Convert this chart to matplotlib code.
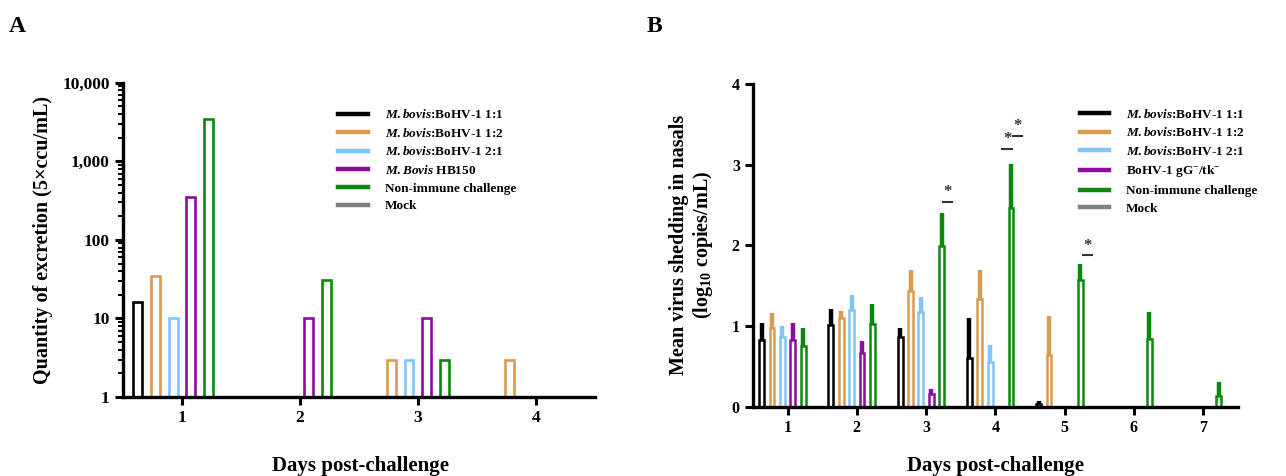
import numpy as np
import matplotlib
matplotlib.use("Agg")
import matplotlib.pyplot as plt
from matplotlib.lines import Line2D
from matplotlib.ticker import FixedLocator, LogLocator, NullFormatter

plt.rcParams['font.family'] = ['Liberation Serif', 'DejaVu Serif']
plt.rcParams['font.weight'] = 'bold'
plt.rcParams['axes.labelweight'] = 'bold'
plt.rcParams['mathtext.fontset'] = 'custom'
plt.rcParams['mathtext.rm'] = 'Liberation Serif:bold'
plt.rcParams['mathtext.bf'] = 'Liberation Serif:bold'
plt.rcParams['mathtext.it'] = 'Liberation Serif:bold:italic'

# --- DATA: panel A (virus excretion, log scale) ---
days_a = [1, 2, 3, 4]
a_mb11 = [16, 1, 1, 1]
a_mb12 = [35, 1, 3, 3]
a_mb21 = [10, 1, 3, 1]
a_hb150 = [355, 10, 10, 1]
a_nonimm = [3500, 31, 3, 1]
a_mock = [1, 1, 1, 1]

# --- DATA: panel B (mean shedding, log10 copies/mL) ---
days_b = [1, 2, 3, 4, 5, 6, 7]
b_mb11 = [0.83, 1.01, 0.87, 0.60, 0.03, 0, 0]
b_mb11_sd = [0.21, 0.20, 0.10, 0.50, 0.04, 0, 0]
b_mb12 = [0.98, 1.10, 1.44, 1.34, 0.64, 0, 0]
b_mb12_sd = [0.18, 0.08, 0.26, 0.36, 0.48, 0, 0]
b_mb21 = [0.87, 1.20, 1.17, 0.55, 0, 0, 0]
b_mb21_sd = [0.13, 0.18, 0.19, 0.21, 0, 0, 0]
b_gg = [0.83, 0.66, 0.16, 0, 0, 0, 0]
b_gg_sd = [0.21, 0.15, 0.06, 0, 0, 0, 0]
b_nonimm = [0.75, 1.02, 1.99, 2.46, 1.57, 0.84, 0.13]
b_nonimm_sd = [0.22, 0.25, 0.41, 0.55, 0.20, 0.33, 0.18]
b_mock = [0, 0, 0, 0, 0, 0, 0]

# significance marks (x in days, y of underline)
sig_x = [3.31, 4.17, 4.32, 5.33]
sig_y = [2.54, 3.20, 3.36, 1.875]

colors = ['#000000', '#DA9A50', '#80C4F8', '#8E0AA0', '#0A8A0A', '#808080']
labels_a = [r'$\mathit{M{.}bovis}$:BoHV-1 1:1', r'$\mathit{M{.}bovis}$:BoHV-1 1:2',
            r'$\mathit{M{.}bovis}$:BoHV-1 2:1', r'$\mathit{M{.}Bovis}$ HB150',
            'Non-immune challenge', 'Mock']
labels_b = labels_a[:3] + [r'BoHV-1 gG$^{-}$/tk$^{-}$', 'Non-immune challenge', 'Mock']

offsets = (np.arange(6) - 2.5) * 0.15

fig = plt.figure(figsize=(12.86, 4.76), dpi=100)
axA = fig.add_axes([0.0956, 0.166, 0.367, 0.660])
axB = fig.add_axes([0.5855, 0.1456, 0.377, 0.678])


def style_axis(ax):
    for s in ['top', 'right']:
        ax.spines[s].set_visible(False)
    for s in ['left', 'bottom']:
        ax.spines[s].set_linewidth(2.4)
    ax.tick_params(which='major', direction='out', length=6, width=2.2)
    ax.tick_params(which='minor', direction='out', length=3.5, width=1.4)


# --- PANEL A ---
series_a = [a_mb11, a_mb12, a_mb21, a_hb150, a_nonimm, a_mock]
for i, vals in enumerate(series_a):
    vals = np.array(vals, dtype=float)
    x = np.array(days_a) + offsets[i]
    m = vals > 1
    axA.bar(x[m], vals[m] - 1, bottom=1, width=0.075, fill=False,
            edgecolor=colors[i], linewidth=1.9)
axA.set_yscale('log')
axA.set_ylim(1, 10000)
axA.set_xlim(0.5, 4.5)
axA.yaxis.set_major_locator(FixedLocator([1, 10, 100, 1000, 10000]))
axA.set_yticklabels(['1', '10', '100', '1,000', '10,000'])
axA.yaxis.set_minor_locator(LogLocator(base=10, subs=np.arange(2, 10)))
axA.yaxis.set_minor_formatter(NullFormatter())
axA.set_xticks(days_a)
style_axis(axA)
axA.tick_params(axis='both', labelsize=12.5)
axA.set_ylabel('Quantity of excretion (5×ccu/mL)', fontsize=14.5, labelpad=7)

# --- PANEL B ---
series_b = [(b_mb11, b_mb11_sd), (b_mb12, b_mb12_sd), (b_mb21, b_mb21_sd),
            (b_gg, b_gg_sd), (b_nonimm, b_nonimm_sd), (b_mock, None)]
for i, (vals, sd) in enumerate(series_b):
    vals = np.array(vals, dtype=float)
    x = np.array(days_b) + offsets[i]
    m = vals > 0
    if not m.any():
        continue
    axB.bar(x[m], vals[m], width=0.07, fill=False,
            edgecolor=colors[i], linewidth=1.8)
    sd = np.array(sd, dtype=float)
    axB.vlines(x[m], vals[m], vals[m] + sd[m], colors=colors[i], linewidth=3.2)

for sx, sy in zip(sig_x, sig_y):
    axB.plot([sx - 0.07, sx + 0.07], [sy, sy], color='#333333', lw=1.5)
    axB.text(sx, sy + 0.02, '*', ha='center', va='bottom', fontsize=12, color='#333333')

axB.set_ylim(0, 4)
axB.set_xlim(0.5, 7.5)
axB.set_yticks([0, 1, 2, 3, 4])
axB.set_xticks(days_b)
style_axis(axB)
axB.tick_params(axis='both', labelsize=11.5)
axB.set_ylabel('Mean virus shedding in nasals\n(log$_{10}$ copies/mL)', fontsize=14.5,
               labelpad=12, linespacing=1.1)

# --- x labels and panel letters ---
fig.text(0.28, 0.02, 'Days post-challenge', ha='center', va='center', fontsize=15)
fig.text(0.774, 0.02, 'Days post-challenge', ha='center', va='center', fontsize=15)
fig.text(0.007, 0.945, 'A', fontsize=17, ha='left', va='center')
fig.text(0.503, 0.945, 'B', fontsize=17, ha='left', va='center')

# --- legends ---
handles = [Line2D([0], [0], color=c, lw=3.2) for c in colors]
fig.legend(handles, labels_a, loc='upper left', bbox_to_anchor=(0.2625, 0.7725),
           frameon=False, fontsize=9.5, handlelength=2.3, handletextpad=1.3,
           labelspacing=0.42, borderpad=0, borderaxespad=0)
fig.legend(handles, labels_b, loc='upper left', bbox_to_anchor=(0.8395, 0.7735),
           frameon=False, fontsize=9.5, handlelength=2.2, handletextpad=1.3,
           labelspacing=0.42, borderpad=0, borderaxespad=0)

fig.savefig('out.png', dpi=100)
